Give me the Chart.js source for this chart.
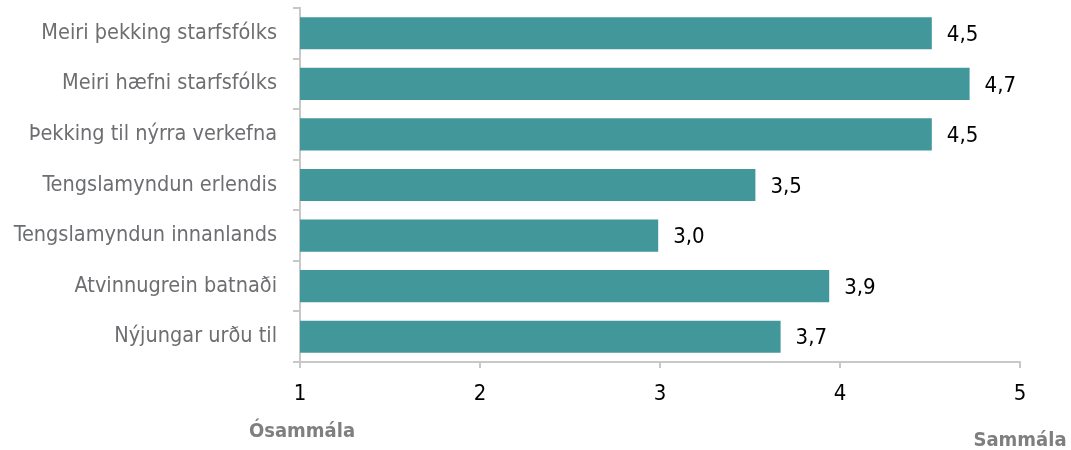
<!DOCTYPE html>
<html lang="is">
<head>
  <meta charset="UTF-8">
  <title>Sammála / Ósammála</title>
  <style>
    body { margin: 0; padding: 0; background: #fff; }
    .wrap { width: 1071px; height: 450px; position: relative; }
  </style>
</head>
<body>
  <div class="wrap">
    <canvas id="chart"></canvas>
  </div>

  <script src="https://cdn.jsdelivr.net/npm/chart.js"></script>
  <script>
    // data
    const categories = [
      'Meiri þekking starfsfólks',
      'Meiri hæfni starfsfólks',
      'Þekking til nýrra verkefna',
      'Tengslamyndun erlendis',
      'Tengslamyndun innanlands',
      'Atvinnugrein batnaði',
      'Nýjungar urðu til'
    ];
    const scores = [4.51, 4.72, 4.51, 3.53, 2.99, 3.94, 3.67];
    const xTicks = [1, 2, 3, 4, 5];
    const endLabels = ['Ósammála', 'Sammála'];

    const narrow = "'Liberation Sans Narrow', 'DejaVu Sans Condensed', Arial, sans-serif";

    // value labels at the end of each bar
    const valueLabels = {
      id: 'valueLabels',
      afterDatasetsDraw(chart) {
        const ctx = chart.ctx;
        const meta = chart.getDatasetMeta(0);
        ctx.save();
        ctx.font = '22px ' + narrow;
        ctx.fillStyle = '#000';
        ctx.textAlign = 'left';
        ctx.textBaseline = 'middle';
        meta.data.forEach((bar, i) => {
          ctx.fillText(scores[i].toFixed(1).replace('.', ','), bar.x + 15, bar.y + 2);
        });
        ctx.restore();
      }
    };

    // "Ósammála" / "Sammála" under the ends of the axis
    const axisEnds = {
      id: 'axisEnds',
      afterDraw(chart) {
        const ctx = chart.ctx;
        const x = chart.scales.x;
        ctx.save();
        ctx.font = 'bold 20px ' + narrow;
        ctx.fillStyle = '#7f7f7f';
        ctx.textAlign = 'center';
        ctx.textBaseline = 'alphabetic';
        ctx.fillText(endLabels[0], x.getPixelForValue(xTicks[0]) + 2, 437);
        ctx.fillText(endLabels[1], x.getPixelForValue(xTicks[xTicks.length - 1]), 446);
        ctx.restore();
      }
    };

    new Chart(document.getElementById('chart'), {
      type: 'bar',
      data: {
        labels: categories,
        datasets: [{
          data: scores,
          backgroundColor: '#41979a',
          barPercentage: 0.635,
          categoryPercentage: 1
        }]
      },
      options: {
        indexAxis: 'y',
        responsive: true,
        maintainAspectRatio: false,
        animation: false,
        layout: { padding: { top: 8, right: 51, bottom: 0, left: 0 } },
        plugins: {
          legend: { display: false },
          tooltip: { enabled: false }
        },
        scales: {
          x: {
            min: 1,
            max: 5,
            afterBuildTicks(scale) {
              scale.ticks = xTicks.map(v => ({ value: v }));
            },
            afterFit(scale) {
              scale.height = 88;
              scale.paddingLeft = 0;
              scale.paddingRight = 0;
            },
            grid: {
              drawOnChartArea: false,
              drawTicks: true,
              tickLength: 6,
              color: '#c8c8c8',
              lineWidth: 2
            },
            border: { display: true, color: '#c8c8c8', width: 2 },
            ticks: {
              color: '#000',
              padding: 13,
              font: { family: narrow, size: 22 }
            }
          },
          y: {
            afterFit(scale) {
              scale.width = 300;
              scale.paddingTop = 0;
              scale.paddingBottom = 0;
            },
            grid: {
              drawOnChartArea: false,
              drawTicks: true,
              tickLength: 7,
              offset: true,
              color: '#c8c8c8',
              lineWidth: 2
            },
            border: { display: true, color: '#c8c8c8', width: 2 },
            ticks: {
              color: '#6d6e71',
              padding: 16,
              font: { family: narrow, size: 21.5 }
            }
          }
        }
      },
      plugins: [valueLabels, axisEnds]
    });
  </script>
</body>
</html>
